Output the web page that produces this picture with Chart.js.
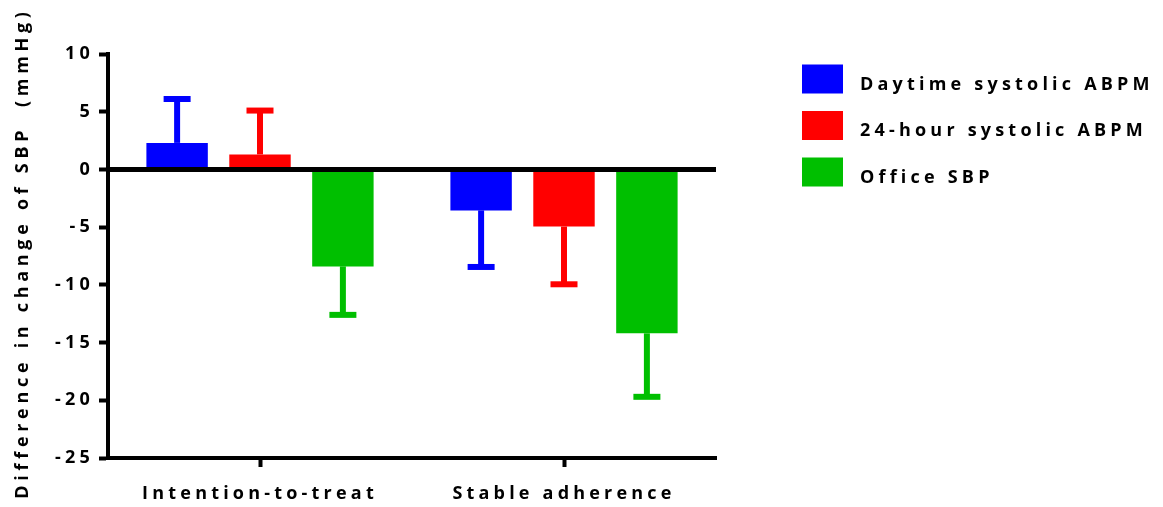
<!DOCTYPE html>
<html>
<head>
<meta charset="utf-8">
<title>Difference in change of SBP</title>
<script src="https://cdn.jsdelivr.net/npm/chart.js@4/dist/chart.umd.min.js"></script>
<style>
  html, body { margin: 0; padding: 0; background: #ffffff; }
  #wrap { width: 1163px; height: 507px; }
</style>
</head>
<body>
<div id="wrap"><canvas id="chart" width="1163" height="507"></canvas></div>
<script>
// Groups along the x axis
const categories = ['Intention-to-treat', 'Stable adherence'];

// Mean difference in change (mmHg) per series
const daytimeSystolic = [2.3, -3.55];
const hour24Systolic = [1.3, -4.95];
const officeSBP = [-8.4, -14.2];

// Error bar lengths (mmHg), drawn away from zero
const daytimeErr = [3.8, 4.9];
const hour24Err = [3.8, 5.0];
const officeErr = [4.2, 5.5];

// Series names
const seriesNames = ['Daytime systolic ABPM', '24-hour systolic ABPM', 'Office SBP'];

// Y axis range and tick step
const yMin = -25;
const yMax = 10;
const yStep = 5;

const colors = ['#0000FF', '#FF0000', '#00BF00'];
const FONT = "'Open Sans', 'DejaVu Sans', sans-serif";
const SPACING = '4.2px';
const TITLE_SPACING = '4.7px';

// Letter spacing for all canvas text
const spacingPlugin = {
  id: 'spacing',
  beforeUpdate(chart) { chart.ctx.letterSpacing = SPACING; },
  beforeLayout(chart) { chart.ctx.letterSpacing = SPACING; },
  beforeDraw(chart) { chart.ctx.letterSpacing = SPACING; }
};

// Error bars: stem from bar end outward plus a cap
const errorBarPlugin = {
  id: 'errorBars',
  afterDatasetsDraw(chart) {
    const ctx = chart.ctx;
    const yScale = chart.scales.y;
    chart.data.datasets.forEach((ds, di) => {
      const meta = chart.getDatasetMeta(di);
      meta.data.forEach((bar, i) => {
        const v = ds.data[i];
        const e = ds.errors[i];
        const end = v >= 0 ? v + e : v - e;
        const yEnd = yScale.getPixelForValue(end);
        const yBar = bar.y;
        ctx.save();
        ctx.strokeStyle = ds.backgroundColor;
        ctx.lineWidth = 6;
        ctx.lineCap = 'butt';
        ctx.beginPath();
        ctx.moveTo(bar.x, yBar);
        ctx.lineTo(bar.x, yEnd);
        ctx.stroke();
        ctx.beginPath();
        ctx.moveTo(bar.x - 13.5, yEnd);
        ctx.lineTo(bar.x + 13.5, yEnd);
        ctx.stroke();
        ctx.restore();
      });
    });
  }
};

// Legend to the right of the plot: colour swatch plus series name
const sideLegendPlugin = {
  id: 'sideLegend',
  afterDraw(chart) {
    const ctx = chart.ctx;
    ctx.save();
    ctx.letterSpacing = SPACING;
    ctx.font = "bold 18px " + FONT;
    ctx.textAlign = 'left';
    ctx.textBaseline = 'alphabetic';
    chart.data.datasets.forEach((ds, i) => {
      const top = 64.5 + i * 46.5;
      ctx.fillStyle = ds.backgroundColor;
      ctx.fillRect(802, top, 41, 29);
      ctx.fillStyle = '#000000';
      ctx.fillText(ds.label, 860, top + 25);
    });
    ctx.restore();
  }
};

const makeSet = (label, data, errors, color) => ({
  label, data, errors,
  backgroundColor: color,
  borderWidth: 0,
  categoryPercentage: 0.818,
  barPercentage: 0.741
});

new Chart(document.getElementById('chart'), {
  type: 'bar',
  data: {
    labels: categories,
    datasets: [
      makeSet(seriesNames[0], daytimeSystolic, daytimeErr, colors[0]),
      makeSet(seriesNames[1], hour24Systolic, hour24Err, colors[1]),
      makeSet(seriesNames[2], officeSBP, officeErr, colors[2])
    ]
  },
  options: {
    responsive: false,
    devicePixelRatio: 1,
    animation: false,
    layout: { padding: { top: 54, right: 447, bottom: 0, left: 0 } },
    plugins: {
      legend: { display: false },
      tooltip: { enabled: false }
    },
    scales: {
      x: {
        offset: true,
        grid: {
          offset: false,
          color: 'rgba(0,0,0,0)',
          drawOnChartArea: false,
          tickColor: '#000000',
          tickLength: 9,
          tickWidth: 4
        },
        border: { display: true, color: '#000000', width: 4 },
        ticks: {
          color: '#000000',
          padding: 16,
          font: { family: FONT, size: 18, weight: 'bold' }
        },
        afterFit(scale) { scale.height = 49; }
      },
      y: {
        min: yMin,
        max: yMax,
        grid: {
          color: (c) => (c.tick && c.tick.value === 0 ? '#000000' : 'rgba(0,0,0,0)'),
          lineWidth: (c) => (c.tick && c.tick.value === 0 ? 5 : 1),
          tickColor: '#000000',
          tickLength: 9,
          tickWidth: 4
        },
        border: { display: true, color: '#000000', width: 4 },
        ticks: {
          stepSize: yStep,
          color: '#000000',
          padding: 5,
          font: { family: FONT, size: 18, weight: 'bold' }
        },
        title: {
          display: true,
          text: 'Difference in change of SBP  (mmHg)',
          color: '#000000',
          padding: { top: 12, bottom: 0 },
          font: { family: FONT, size: 18, weight: 'bold' }
        },
        afterFit(scale) {
          scale.width = 108;
          // axis title uses a wider letter spacing and sits slightly higher
          if (!scale._spacedTitle) {
            const drawTitle = scale.drawTitle.bind(scale);
            scale.drawTitle = function () {
              const ctx = this.ctx;
              ctx.save();
              ctx.letterSpacing = TITLE_SPACING;
              ctx.translate(0, -3);
              drawTitle();
              ctx.restore();
            };
            scale._spacedTitle = true;
          }
        }
      }
    }
  },
  plugins: [spacingPlugin, errorBarPlugin, sideLegendPlugin]
});
</script>
</body>
</html>
